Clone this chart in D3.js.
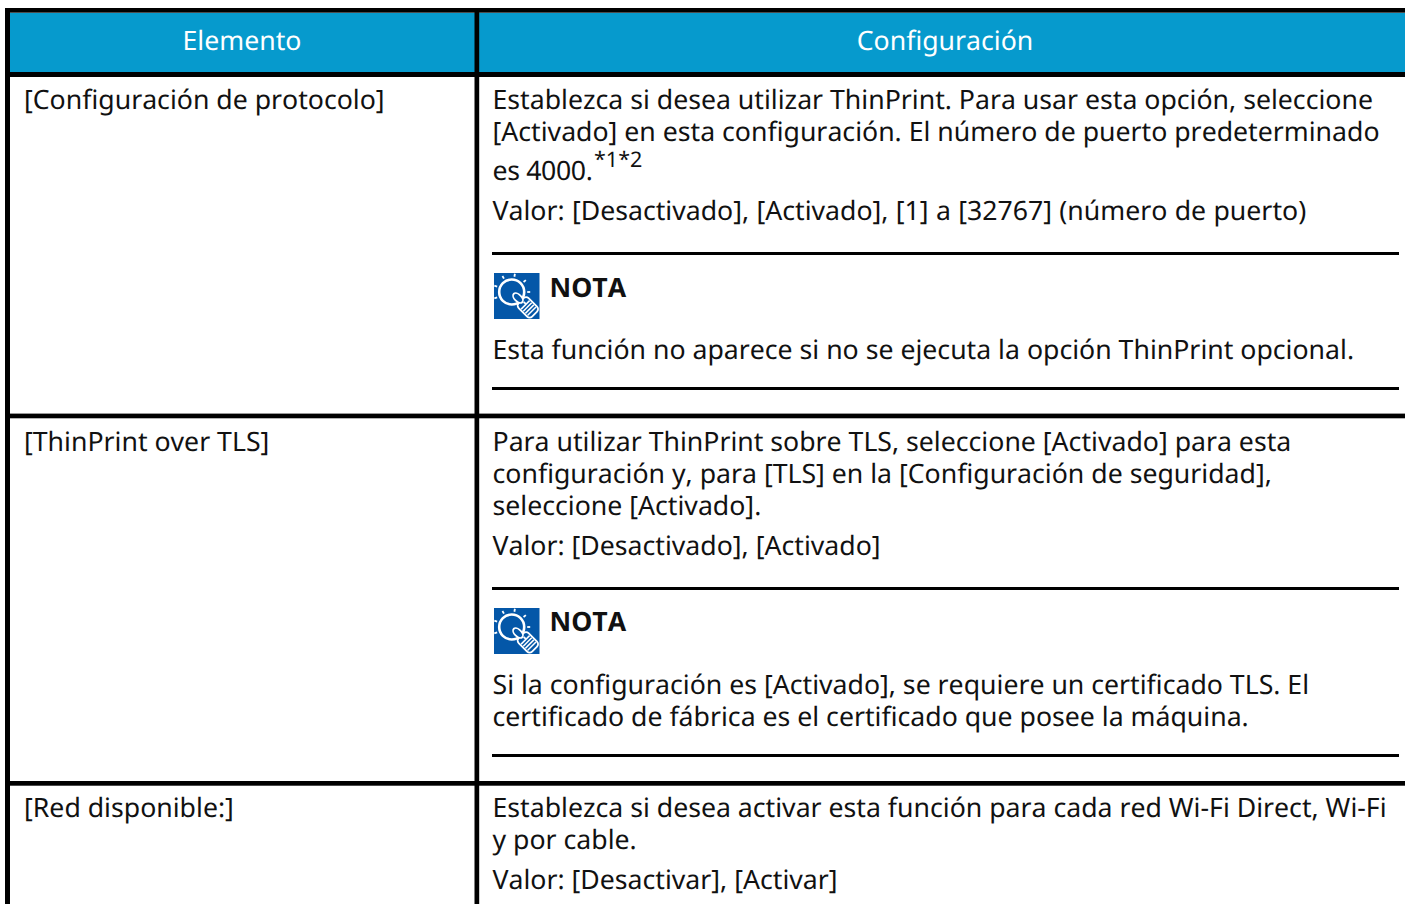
<!DOCTYPE html>
<html>
<head>
<meta charset="utf-8">
<script src="https://cdn.jsdelivr.net/npm/d3@7/dist/d3.min.js"></script>
<style>
html, body { margin: 0; padding: 0; background: #fff; overflow: hidden; }
#wrap { position: relative; width: 1405px; height: 904px; overflow: hidden; }
#chart { position: absolute; left: 0; top: 0; }
.t { position: absolute; white-space: pre; font-family: "Noto Sans", sans-serif; font-size: 20pt; line-height: 32px; color: #111; font-kerning: none; text-rendering: geometricPrecision; }
</style>
</head>
<body>
<div id="wrap"><svg id="chart" width="1405" height="904"></svg></div>
<script>
// Table content
const headers = ["Elemento", "Configuración"];
const items = ["[Configuración de protocolo]", "[ThinPrint over TLS]", "[Red disponible:]"];
const noteLabel = "NOTA";

const row1Body = [
    "Establezca si desea utilizar ThinPrint. Para usar esta opción, seleccione",
    "[Activado] en esta configuración. El número de puerto predeterminado"
];
const row1Last = "es 4000.";
const row1Sup = "*1*2";
const row1Value = "Valor: [Desactivado], [Activado], [1] a [32767] (número de puerto)";
const row1Note = ["Esta función no aparece si no se ejecuta la opción ThinPrint opcional."];

const row2Body = [
    "Para utilizar ThinPrint sobre TLS, seleccione [Activado] para esta",
    "configuración y, para [TLS] en la [Configuración de seguridad],",
    "seleccione [Activado]."
];
const row2Value = "Valor: [Desactivado], [Activado]";
const row2Note = [
    "Si la configuración es [Activado], se requiere un certificado TLS. El",
    "certificado de fábrica es el certificado que posee la máquina."
];

const row3Body = [
    "Establezca si desea activar esta función para cada red Wi-Fi Direct, Wi-Fi",
    "y por cable."
];
const row3Value = "Valor: [Desactivar], [Activar]";

// Layout
const W = 1405, H = 904;
const BLUE = "#069acd", INK = "#000", NOTE_BLUE = "#0457a8";
const lineStep = 32;
const BASE = 26; // line box top to baseline

const svg = d3.select("#chart");
const wrap = d3.select("#wrap");

// Header band
svg.append("rect").attr("x", 10).attr("y", 13).attr("width", W).attr("height", 59).attr("fill", BLUE);

// Borders
function hBar(x, y, w, h) {
    svg.append("rect").attr("x", x).attr("y", y).attr("width", w).attr("height", h).attr("fill", INK);
}
hBar(5, 8, W - 5, 4.7);
hBar(5, 72, W - 5, 5);
hBar(5, 413.6, W - 5, 4.7);
hBar(5, 781, W - 5, 4.7);
hBar(5, 8, 5, H - 8);
hBar(474.5, 8, 4.7, H - 8);

function addLine(x, y, str) {
    return wrap.append("div").attr("class", "t")
        .style("left", `${x}px`).style("top", `${y - BASE}px`).text(str);
}

// Header labels
headers.forEach((h, i) => {
    addLine(i === 0 ? 242 : 945, 50, h)
        .style("color", "#fff")
        .style("transform", "translateX(-50%)");
});

// Bulb icon, blue square with white outline lamp
function noteIcon(x, y) {
    const g = svg.append("g").attr("transform", `translate(${x},${y})`);
    g.append("rect").attr("width", 45.5).attr("height", 46).attr("fill", NOTE_BLUE);
    g.append("circle").attr("cx", 17.7).attr("cy", 19).attr("r", 12.5)
        .attr("fill", "none").attr("stroke", "#fff").attr("stroke-width", 2.6);
    // socket with stripes, turned towards the bottom right corner
    g.append("g").attr("transform", "translate(33.5,34) rotate(-45)")
        .call(s => {
            s.append("rect").attr("x", -7).attr("y", -9).attr("width", 14).attr("height", 19).attr("rx", 3.5)
                .attr("fill", NOTE_BLUE).attr("stroke", "#fff").attr("stroke-width", 1.8);
            [-3, 0, 3, 6].forEach(v => {
                s.append("line").attr("x1", -6).attr("x2", 6).attr("y1", v).attr("y2", v)
                    .attr("stroke", "#fff").attr("stroke-width", 1.5);
            });
        });
    g.append("ellipse").attr("cx", 24).attr("cy", 25).attr("rx", 3.5).attr("ry", 6)
        .attr("transform", "rotate(-45 24 25)")
        .attr("fill", NOTE_BLUE).attr("stroke", "#fff").attr("stroke-width", 1.8);
    [-20, 20, 60, 100, 140, 180, 220].forEach(a => {
        const r = a * Math.PI / 180;
        g.append("line")
            .attr("x1", 17.7 - Math.cos(r) * 15.5).attr("y1", 19 - Math.sin(r) * 15.5)
            .attr("x2", 17.7 - Math.cos(r) * 18.5).attr("y2", 19 - Math.sin(r) * 18.5)
            .attr("stroke", "#fff").attr("stroke-width", 1.8);
    });
}

// Note block: rule, icon + label, text lines, rule
function noteBlock(ruleY, lines, labelOffset) {
    hBar(492, ruleY, W - 492 - 6, 3);
    noteIcon(494, ruleY + 21);
    addLine(549.5, ruleY + labelOffset, noteLabel).style("font-weight", 700);
    lines.forEach((l, i) => addLine(492.5, ruleY + 107 + i * lineStep, l));
    hBar(492, ruleY + 106 + (lines.length - 1) * lineStep + 29, W - 492 - 6, 3);
}

const textX = 492.5, itemX = 24;

// Row 1
addLine(itemX, 109, items[0]);
row1Body.forEach((l, i) => addLine(textX, 109 + i * lineStep, l));
addLine(textX, 180, row1Last).style("letter-spacing", "-0.35px");
addLine(594, 170, row1Sup).style("font-size", "21.5px");
addLine(textX, 220, row1Value).style("word-spacing", "0.4px");
noteBlock(252, row1Note, 45);

// Row 2
addLine(itemX, 451, items[1]);
row2Body.forEach((l, i) => addLine(textX, 451 + i * lineStep, l));
addLine(textX, 555, row2Value);
noteBlock(587, row2Note, 44);

// Row 3
addLine(itemX, 817, items[2]);
row3Body.forEach((l, i) => addLine(textX, 817 + i * lineStep, l));
addLine(textX, 889, row3Value);
</script>
</body>
</html>
